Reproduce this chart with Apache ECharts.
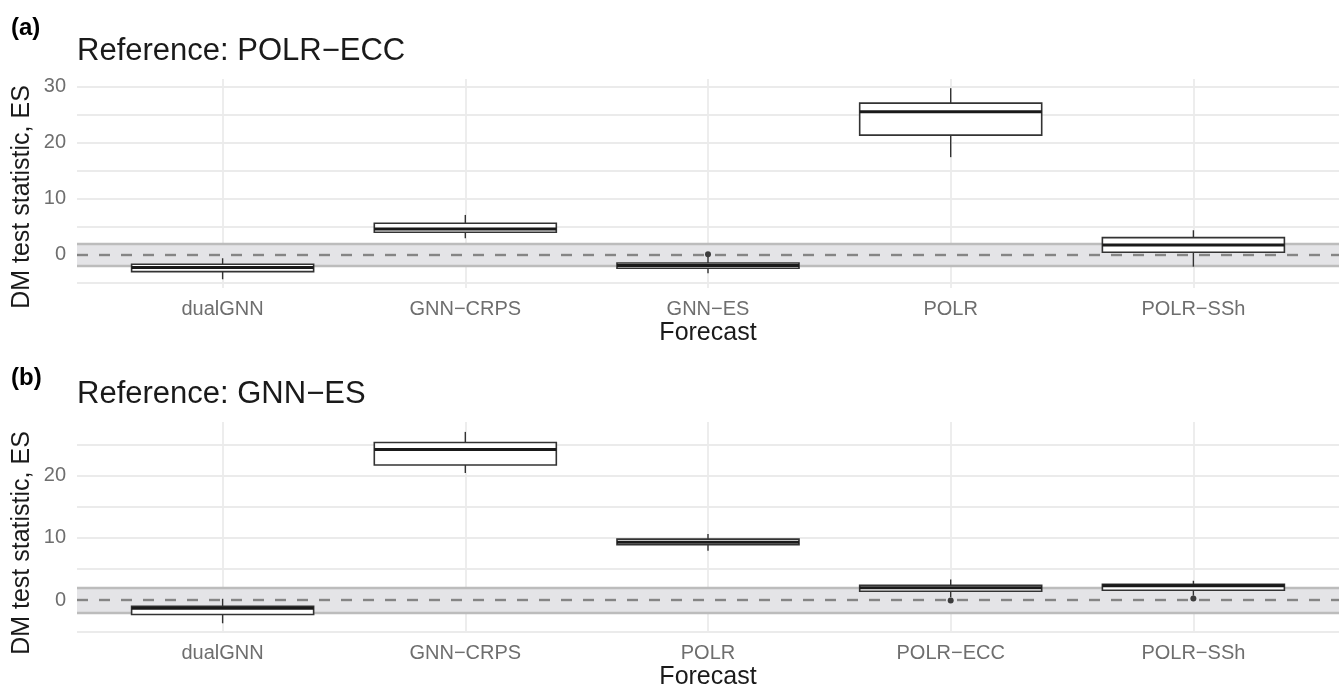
<!DOCTYPE html>
<html><head><meta charset="utf-8">
<script src="https://cdn.jsdelivr.net/npm/echarts@6/dist/echarts.min.js"></script>
<style>html,body{margin:0;padding:0;background:#fff}#c{width:1343px;height:691px}</style>
</head><body><div id="c"></div>
<script>
// ---------- data: panel (a) Reference: POLR−ECC ----------
const catsA = ['dualGNN', 'GNN−CRPS', 'GNN−ES', 'POLR', 'POLR−SSh'];
const minA  = [-4.34, 2.98, -3.27, 17.45, -2.09];
const q1A   = [-2.98, 4.05, -2.38, 21.38, 0.48];
const medA  = [-2.26, 4.64, -1.88, 25.54, 1.79];
const q3A   = [-1.66, 5.66, -1.43, 27.09, 3.09];
const maxA  = [-0.59, 7.14, -0.35, 29.76, 4.41];
const outCatA = [3];          // category position (1-based)
const outValA = [0.12];
// ---------- data: panel (b) Reference: GNN−ES ----------
const catsB = ['dualGNN', 'GNN−CRPS', 'POLR', 'POLR−ECC', 'POLR−SSh'];
const minB  = [-3.70, 20.42, 7.94, 0.48, 0.75];
const q1B   = [-2.30, 21.70, 8.91, 1.45, 1.61];
const medB  = [-1.29, 24.18, 9.32, 1.99, 2.31];
const q3B   = [-0.96, 25.31, 9.81, 2.41, 2.57];
const maxB  = [0.23, 27.01, 10.61, 3.33, 3.12];
const outCatB = [4, 5];
const outValB = [-0.05, 0.27];
// ---------- ticks ----------
const yLabelsA = [0, 10, 20, 30];
const yGridA   = [-5, 0, 5, 10, 15, 20, 25, 30];
const yLabelsB = [0, 10, 20];
const yGridB   = [-5, 0, 5, 10, 15, 20, 25];
const xPos     = [1, 2, 3, 4, 5];
const critical = 1.96;
const yTitle = 'DM test statistic, ES';
const xTitle = 'Forecast';

const FONT = 'Liberation Sans, Arial, Helvetica, sans-serif';

function renderBox(params, api) {
  const x = api.value(0);
  const lo = api.coord([x, api.value(1)]);
  const q1 = api.coord([x, api.value(2)]);
  const md = api.coord([x, api.value(3)]);
  const q3 = api.coord([x, api.value(4)]);
  const hi = api.coord([x, api.value(5)]);
  const w = api.size([0.75, 0])[0];
  const cx = q1[0];
  const stroke = '#333333';
  return {type: 'group', children: [
    {type: 'line', shape: {x1: cx, y1: q3[1], x2: cx, y2: hi[1]}, style: {stroke: stroke, lineWidth: 1.4}},
    {type: 'line', shape: {x1: cx, y1: q1[1], x2: cx, y2: lo[1]}, style: {stroke: stroke, lineWidth: 1.4}},
    {type: 'rect', shape: {x: cx - w / 2, y: q3[1], width: w, height: q1[1] - q3[1]}, style: {fill: '#ffffff', stroke: stroke, lineWidth: 1.6}},
    {type: 'line', shape: {x1: cx - w / 2, y1: md[1], x2: cx + w / 2, y2: md[1]}, style: {stroke: '#1a1a1a', lineWidth: 3}}
  ]};
}

function boxData(mn, q1, md, q3, mx) {
  return mn.map((v, i) => [i + 1, mn[i], q1[i], md[i], q3[i], mx[i]]);
}

function xAxisFor(gi, cats) {
  return {
    type: 'value', gridIndex: gi, min: 0.4, max: 5.6,
    axisLine: {show: false}, axisTick: {show: false, customValues: xPos},
    axisLabel: {customValues: xPos, formatter: v => cats[Math.round(v) - 1], color: '#6e6e6e', fontSize: 20, fontFamily: FONT, margin: 11},
    splitLine: {show: true, lineStyle: {color: '#ebebeb', width: 1.8}},
    name: xTitle, nameLocation: 'middle', nameGap: 33,
    nameTextStyle: {fontSize: 25, color: '#1a1a1a', fontFamily: FONT}
  };
}
function yAxisFor(gi, mn, mx, labels, grid) {
  return {
    type: 'value', gridIndex: gi, min: mn, max: mx,
    axisLine: {show: false}, axisTick: {show: false, customValues: grid},
    axisLabel: {customValues: labels, color: '#6e6e6e', fontSize: 20, fontFamily: FONT, margin: 11},
    splitLine: {show: true, lineStyle: {color: '#ebebeb', width: 1.8}}
  };
}
function refSeries(gi) {
  return {
    type: 'line', xAxisIndex: gi, yAxisIndex: gi, data: [], z: 1, silent: true,
    markArea: {silent: true, z: 1, itemStyle: {color: '#e4e4e7'}, data: [[{yAxis: -critical}, {yAxis: critical}]]},
    markLine: {silent: true, z: 2, symbol: 'none', label: {show: false},
      data: [
        {yAxis: -critical, lineStyle: {color: '#bcbcbc', width: 2.4, type: 'solid'}},
        {yAxis: critical, lineStyle: {color: '#bcbcbc', width: 2.4, type: 'solid'}},
        {yAxis: 0, lineStyle: {color: '#858585', width: 2.4, type: [11, 11]}}
      ]}
  };
}
function yTitleText(cy) {
  return {type: 'text', x: 22, y: cy, rotation: Math.PI / 2, silent: true,
    style: {text: yTitle, fontSize: 25, fontFamily: FONT, fill: '#1a1a1a', align: 'center', verticalAlign: 'middle'}};
}

const chart = echarts.init(document.getElementById('c'), null, {renderer: 'canvas'});
chart.setOption({
  backgroundColor: '#ffffff',
  animation: false,
  title: [
    {text: '(a)', left: 6, top: 11, textStyle: {fontSize: 24, fontWeight: 'bold', color: '#000', fontFamily: FONT}},
    {text: 'Reference: POLR−ECC', left: 72, top: 31, textStyle: {fontSize: 31, fontWeight: 'normal', color: '#1a1a1a', fontFamily: FONT}},
    {text: '(b)', left: 6, top: 361, textStyle: {fontSize: 24, fontWeight: 'bold', color: '#000', fontFamily: FONT}},
    {text: 'Reference: GNN−ES', left: 72, top: 374, textStyle: {fontSize: 31, fontWeight: 'normal', color: '#1a1a1a', fontFamily: FONT}}
  ],
  graphic: [yTitleText(197), yTitleText(543)],
  grid: [
    {left: 77, right: 4, top: 79, height: 209},
    {left: 77, right: 4, top: 422, height: 210}
  ],
  xAxis: [xAxisFor(0, catsA), xAxisFor(1, catsB)],
  yAxis: [yAxisFor(0, -5.9, 31.4, yLabelsA, yGridA), yAxisFor(1, -5.1, 28.6, yLabelsB, yGridB)],
  series: [
    refSeries(0), refSeries(1),
    {type: 'custom', xAxisIndex: 0, yAxisIndex: 0, z: 10, renderItem: renderBox,
     encode: {x: 0, y: [1, 2, 3, 4, 5]}, data: boxData(minA, q1A, medA, q3A, maxA)},
    {type: 'custom', xAxisIndex: 1, yAxisIndex: 1, z: 10, renderItem: renderBox,
     encode: {x: 0, y: [1, 2, 3, 4, 5]}, data: boxData(minB, q1B, medB, q3B, maxB)},
    {type: 'scatter', xAxisIndex: 0, yAxisIndex: 0, z: 11, symbolSize: 6, itemStyle: {color: '#111'},
     data: outCatA.map((c, i) => [c, outValA[i]])},
    {type: 'scatter', xAxisIndex: 1, yAxisIndex: 1, z: 11, symbolSize: 6, itemStyle: {color: '#111'},
     data: outCatB.map((c, i) => [c, outValB[i]])}
  ]
});
</script></body></html>
